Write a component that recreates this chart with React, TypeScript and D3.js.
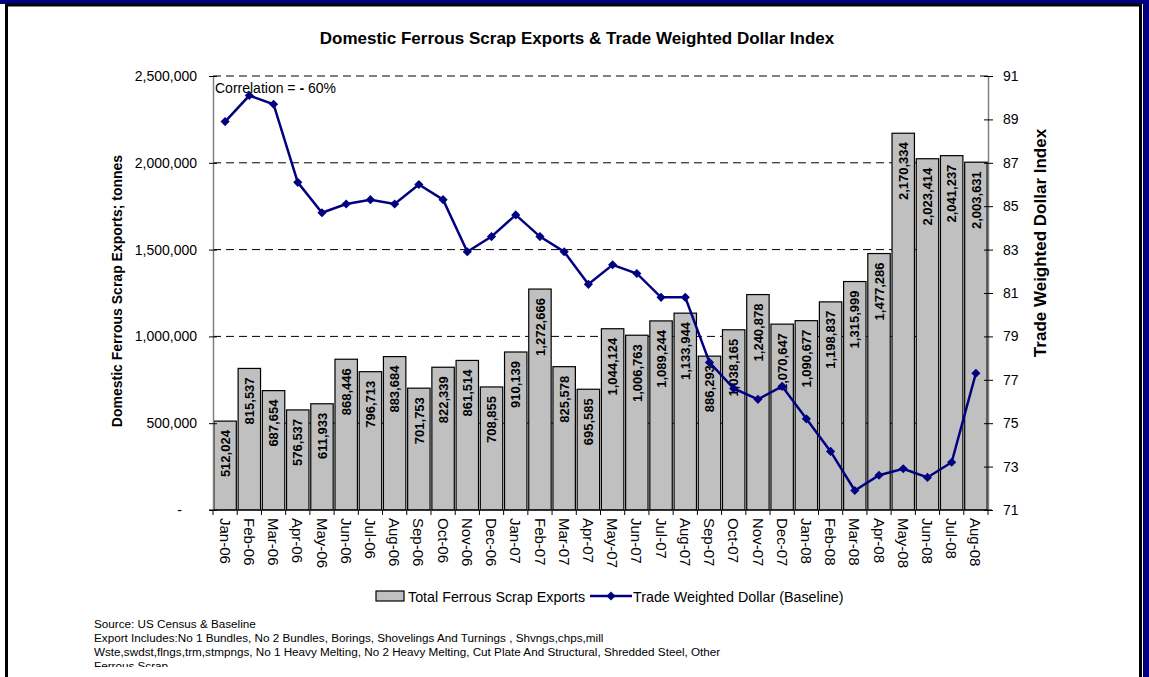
import { useEffect, useRef } from "react";
import * as d3 from "d3";

const months = [
  "Jan-06", "Feb-06", "Mar-06", "Apr-06", "May-06", "Jun-06", "Jul-06", "Aug-06",
  "Sep-06", "Oct-06", "Nov-06", "Dec-06", "Jan-07", "Feb-07", "Mar-07", "Apr-07",
  "May-07", "Jun-07", "Jul-07", "Aug-07", "Sep-07", "Oct-07", "Nov-07", "Dec-07",
  "Jan-08", "Feb-08", "Mar-08", "Apr-08", "May-08", "Jun-08", "Jul-08", "Aug-08",
];

// Total Ferrous Scrap Exports, tonnes
const scrapExports = [
  512024, 815537, 687654, 576537, 611933, 868446, 796713, 883684,
  701753, 822339, 861514, 708855, 910139, 1272666, 825578, 695585,
  1044124, 1006763, 1089244, 1133944, 886293, 1038165, 1240878, 1070647,
  1090677, 1198837, 1315999, 1477286, 2170334, 2023414, 2041237, 2003631,
];

// Trade Weighted Dollar (Baseline)
const dollarIndex = [
  88.9, 90.1, 89.7, 86.1, 84.7, 85.1, 85.3, 85.1,
  86.0, 85.3, 82.9, 83.6, 84.6, 83.6, 82.9, 81.4,
  82.3, 81.9, 80.8, 80.8, 77.8, 76.6, 76.1, 76.7,
  75.2, 73.7, 71.9, 72.6, 72.9, 72.5, 73.2, 77.3,
];

const leftTicks = [0, 500000, 1000000, 1500000, 2000000, 2500000];
const rightTicks = [71, 73, 75, 77, 79, 81, 83, 85, 87, 89, 91];

const footerLines = [
  "Source: US Census & Baseline",
  "Export Includes:No 1 Bundles,  No 2 Bundles, Borings, Shovelings And Turnings , Shvngs,chps,mill",
  "Wste,swdst,flngs,trm,stmpngs, No 1 Heavy Melting, No 2 Heavy Melting, Cut Plate And Structural, Shredded Steel, Other",
  "Ferrous Scrap",
];

const FONT = '"Liberation Sans", Arial, Helvetica, sans-serif';
const W = 1149;
const H = 677;
const NAVY = "#000080";

export default function App() {
  const svgRef = useRef<SVGSVGElement>(null);

  useEffect(() => {
    if (!svgRef.current) return;
    const svg = d3.select(svgRef.current);
    svg.selectAll("*").remove();

    const plot = { left: 213, right: 988, top: 76, bottom: 510 };

    // frame
    svg.append("rect").attr("width", W).attr("height", H).attr("fill", "#fff");
    svg.append("rect").attr("x", 0).attr("y", 0).attr("width", W).attr("height", 4).attr("fill", NAVY);
    svg.append("rect").attr("x", 1143).attr("y", 0).attr("width", 6).attr("height", H).attr("fill", NAVY);
    svg.append("rect")
      .attr("x", 6.5).attr("y", 5).attr("width", 1134).attr("height", H + 10)
      .attr("fill", "none").attr("stroke", "#000").attr("stroke-width", 3);

    const x = d3.scaleBand().domain(months).range([plot.left, plot.right]).padding(0);
    const y = d3.scaleLinear().domain([0, 2500000]).range([plot.bottom, plot.top]);
    const y2 = d3.scaleLinear().domain([71, 91]).range([plot.bottom, plot.top]);

    // title
    svg.append("text")
      .attr("x", 577).attr("y", 44)
      .attr("text-anchor", "middle")
      .style("font-family", FONT).style("font-size", "17px").style("font-weight", "bold")
      .text("Domestic Ferrous Scrap Exports & Trade Weighted Dollar Index");

    // grid lines
    svg.append("g")
      .selectAll("line")
      .data(leftTicks.filter((d) => d > 0))
      .enter()
      .append("line")
      .attr("x1", plot.left).attr("x2", plot.right)
      .attr("y1", (d) => y(d)).attr("y2", (d) => y(d))
      .attr("stroke", "#000").attr("stroke-width", 1)
      .attr("stroke-dasharray", "8,5");

    // bars
    const inset = 0.9;
    svg.append("g")
      .selectAll("rect")
      .data(scrapExports)
      .enter()
      .append("rect")
      .attr("x", (_d, i) => (x(months[i]) || 0) + inset)
      .attr("width", x.bandwidth() - inset * 2)
      .attr("y", (d) => y(d))
      .attr("height", (d) => plot.bottom - y(d))
      .attr("fill", "#c0c0c0")
      .attr("stroke", "#000")
      .attr("stroke-width", 1.2);

    // bar labels
    svg.append("g")
      .selectAll("text")
      .data(scrapExports)
      .enter()
      .append("text")
      .attr("transform", (d, i) =>
        `translate(${(x(months[i]) || 0) + x.bandwidth() / 2},${y(d) + 9}) rotate(-90)`)
      .attr("text-anchor", "end")
      .attr("dy", "0.36em")
      .style("font-family", FONT).style("font-size", "13px").style("font-weight", "bold")
      .text((d) => d3.format(",")(d));

    // left axis
    const gl = svg.append("g")
      .attr("transform", `translate(${plot.left},0)`)
      .call(
        d3.axisLeft(y)
          .tickValues(leftTicks)
          .tickSize(4)
          .tickSizeOuter(0)
          .tickPadding(12)
          .tickFormat((d) => (+d === 0 ? "-" : d3.format(",")(+d))),
      );
    gl.select(".domain").attr("stroke", "#808080").attr("stroke-width", 1.5);
    gl.selectAll(".tick line").attr("x1", 4).attr("stroke", "#000");
    gl.selectAll(".tick text")
      .style("font-family", FONT).style("font-size", "14px").attr("fill", "#000");
    gl.selectAll(".tick text").filter((d) => +d === 0).attr("x", -31);

    // right axis
    const gr = svg.append("g")
      .attr("transform", `translate(${plot.right},0)`)
      .call(
        d3.axisRight(y2)
          .tickValues(rightTicks)
          .tickSize(5)
          .tickSizeOuter(0)
          .tickPadding(10)
          .tickFormat(d3.format("d")),
      );
    gr.select(".domain").attr("stroke", "#808080").attr("stroke-width", 1.5);
    gr.selectAll(".tick line").attr("x1", -4).attr("stroke", "#000");
    gr.selectAll(".tick text")
      .style("font-family", FONT).style("font-size", "14px").attr("fill", "#000");

    // bottom axis
    const gb = svg.append("g").attr("transform", `translate(0,${plot.bottom})`);
    gb.append("line")
      .attr("x1", plot.left - 4).attr("x2", plot.right + 4)
      .attr("stroke", "#000").attr("stroke-width", 1.2);
    gb.selectAll(".bt")
      .data(d3.range(months.length + 1))
      .enter()
      .append("line")
      .attr("x1", (i) => plot.left + i * x.step())
      .attr("x2", (i) => plot.left + i * x.step())
      .attr("y1", 0).attr("y2", 5)
      .attr("stroke", "#000");
    svg.append("g")
      .selectAll("text")
      .data(months)
      .enter()
      .append("text")
      .attr("transform", (d) => `translate(${(x(d) || 0) + x.bandwidth() / 2},${plot.bottom + 8}) rotate(90)`)
      .attr("text-anchor", "start")
      .attr("dy", "0.36em")
      .style("font-family", FONT).style("font-size", "15px")
      .text((d) => d);

    // dollar index line
    const line = d3.line<number>()
      .x((_d, i) => (x(months[i]) || 0) + x.bandwidth() / 2)
      .y((d) => y2(d));
    svg.append("path")
      .datum(dollarIndex)
      .attr("d", line)
      .attr("fill", "none")
      .attr("stroke", NAVY)
      .attr("stroke-width", 2.5);
    const diamond = d3.symbol().type(d3.symbolSquare).size(42);
    svg.append("g")
      .selectAll("path")
      .data(dollarIndex)
      .enter()
      .append("path")
      .attr("d", diamond)
      .attr("transform", (d, i) =>
        `translate(${(x(months[i]) || 0) + x.bandwidth() / 2},${y2(d)}) rotate(45)`)
      .attr("fill", NAVY);

    // correlation note
    const corr = svg.append("text")
      .attr("x", 215).attr("y", 93)
      .style("font-family", FONT).style("font-size", "14px");
    corr.append("tspan").text("Correlation = ");
    corr.append("tspan").style("font-weight", "bold").text("-");
    corr.append("tspan").text(" 60%");

    // axis titles
    svg.append("text")
      .attr("transform", "translate(122,291) rotate(-90)")
      .attr("text-anchor", "middle")
      .style("font-family", FONT).style("font-size", "14px").style("font-weight", "bold")
      .text("Domestic Ferrous Scrap Exports; tonnes");
    svg.append("text")
      .attr("transform", "translate(1046,243) rotate(-90)")
      .attr("text-anchor", "middle")
      .style("font-family", FONT).style("font-size", "17px").style("font-weight", "bold")
      .text("Trade Weighted Dollar Index");

    // legend
    const lg = svg.append("g");
    lg.append("rect")
      .attr("x", 376).attr("y", 591).attr("width", 28).attr("height", 10)
      .attr("fill", "#c0c0c0").attr("stroke", "#000").attr("stroke-width", 1.2);
    lg.append("text")
      .attr("x", 408).attr("y", 602)
      .style("font-family", FONT).style("font-size", "14.3px")
      .text("Total Ferrous Scrap Exports");
    lg.append("line")
      .attr("x1", 590).attr("x2", 632).attr("y1", 596).attr("y2", 596)
      .attr("stroke", NAVY).attr("stroke-width", 2.5);
    lg.append("path")
      .attr("d", diamond)
      .attr("transform", "translate(611,596) rotate(45)")
      .attr("fill", NAVY);
    lg.append("text")
      .attr("x", 633).attr("y", 602)
      .style("font-family", FONT).style("font-size", "14.3px")
      .text("Trade Weighted Dollar (Baseline)");

    // footer notes, last line is cut off by the frame
    svg.append("clipPath").attr("id", "footclip")
      .append("rect").attr("x", 0).attr("y", 0).attr("width", W).attr("height", 667);
    svg.append("g")
      .attr("clip-path", "url(#footclip)")
      .selectAll("text")
      .data(footerLines)
      .enter()
      .append("text")
      .attr("x", 94)
      .attr("y", (_d, i) => 628 + i * 14)
      .style("font-family", FONT).style("font-size", "11.7px")
      .text((d) => d);
  }, []);

  return (
    <svg
      ref={svgRef}
      width={W}
      height={H}
      viewBox={`0 0 ${W} ${H}`}
      style={{ position: "absolute", left: 0, top: 0, display: "block" }}
    />
  );
}
